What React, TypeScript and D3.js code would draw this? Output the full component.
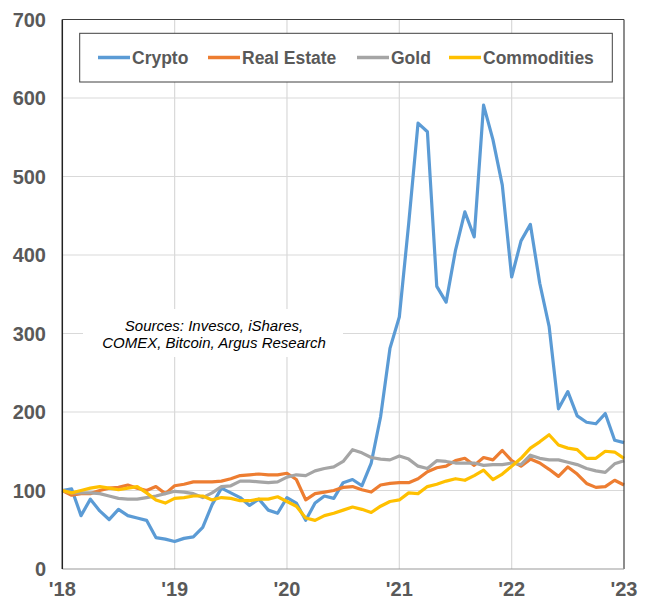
import React from 'react';
import * as d3 from 'd3';

const width = 652;
const height = 599;
const margin = { top: 19.5, right: 28, bottom: 30, left: 62.3 };

const yearLabels = ["'18", "'19", "'20", "'21", "'22", "'23"];
const yTicks = [0, 100, 200, 300, 400, 500, 600, 700];

// monthly index values, Jan '18 = 100
const crypto = [
    100, 102, 68, 89, 74, 63, 76, 68, 65, 62, 40, 38, 35,
    39, 41, 53, 82, 103, 97, 91, 81, 89, 75, 71, 91,
    84, 62, 84, 93, 90, 110, 114, 106, 135, 194, 281, 321,
    440, 568, 557, 360, 340, 406, 455, 423, 591, 547, 489, 372,
    418, 439, 364, 309, 204, 226, 195, 187, 185, 198, 164, 161
];
const realEstate = [
    100, 94, 96, 96, 100, 103, 104, 107, 103, 100, 105, 96, 106,
    108, 111, 111, 111, 112, 115, 119, 120, 121, 120, 120, 122,
    114, 88, 96, 98, 100, 104, 105, 101, 98, 107, 109, 110,
    110, 115, 124, 129, 131, 138, 141, 132, 142, 139, 151, 138,
    131, 140, 135, 127, 118, 130, 121, 109, 104, 105, 113, 107
];
const gold = [
    100, 97, 97, 97, 96, 93, 90, 89, 89, 91, 93, 96, 99,
    98, 96, 91, 97, 105, 106, 112, 112, 111, 110, 111, 117,
    120, 119, 125, 128, 130, 137, 152, 148, 142, 140, 139, 144,
    140, 131, 128, 138, 137, 135, 135, 135, 132, 133, 133, 135,
    133, 145, 141, 139, 139, 136, 133, 128, 125, 123, 134, 138
];
const commodities = [
    100, 97, 100, 103, 105, 103, 101, 103, 105, 97, 88, 84, 90,
    91, 93, 93, 88, 91, 90, 87, 87, 89, 89, 92, 86,
    80, 65, 62, 68, 71, 75, 79, 76, 72, 80, 86, 88,
    97, 96, 105, 108, 112, 115, 113, 119, 126, 114, 121, 131,
    141, 154, 162, 171, 158, 154, 152, 141, 141, 150, 149, 141
];

const seriesNames = ['Crypto', 'Real Estate', 'Gold', 'Commodities'];
const seriesValues = [crypto, realEstate, gold, commodities];
const colors = ['#5b9bd5', '#ed7d31', '#a5a5a5', '#ffc000'];
const sourceLines = ['Sources: Invesco, iShares,', 'COMEX, Bitcoin, Argus Research'];

const font = '"Liberation Sans", Arial, Helvetica, sans-serif';

const App = () => {
    const x = d3.scaleLinear().domain([0, 60]).range([margin.left, width - margin.right]);
    const y = d3.scaleLinear().domain([0, 700]).range([height - margin.bottom, margin.top]);
    const line = d3.line<number>()
        .x((d, i) => x(i))
        .y(d => y(d));

    const x0 = x(0), x1 = x(60), yTop = y(700), yBot = y(0);
    const legendX = [98, 208, 357, 449];

    return (
        <svg width={width} height={height} style={{ position: 'absolute', left: 0, top: 0, background: '#fff' }}>
            {/* grid */}
            {yTicks.slice(1, -1).map(t => (
                <line key={'h' + t} x1={x0} x2={x1} y1={y(t)} y2={y(t)} stroke="#d9d9d9" strokeWidth={1.2} />
            ))}
            {yearLabels.slice(1, -1).map((l, i) => (
                <line key={'v' + l} x1={x((i + 1) * 12)} x2={x((i + 1) * 12)} y1={yTop} y2={yBot} stroke="#d9d9d9" strokeWidth={1.2} />
            ))}

            {/* source note */}
            <rect x={83} y={309} width={260} height={48} fill="#fff" />
            {sourceLines.map((s, i) => (
                <text key={s} x={214} y={330.5 + i * 17} textAnchor="middle" fontFamily={font}
                    fontStyle="italic" fontSize={15} fill="#000">{s}</text>
            ))}

            {/* series */}
            {seriesValues.map((vals, i) => (
                <path key={seriesNames[i]} d={line(vals) || ''} fill="none" stroke={colors[i]}
                    strokeWidth={3.2} strokeLinejoin="round" />
            ))}

            {/* frame */}
            <line x1={x0} x2={x1} y1={yTop} y2={yTop} stroke="#404040" strokeWidth={1.2} />
            <line x1={x1} x2={x1} y1={yTop} y2={yBot} stroke="#404040" strokeWidth={1.2} />
            <line x1={x0} x2={x1} y1={yBot} y2={yBot} stroke="#999" strokeWidth={1.2} />
            <line x1={x0} x2={x0} y1={yTop} y2={yBot} stroke="#222" strokeWidth={1.5} />

            {/* y ticks */}
            {yTicks.map(t => (
                <text key={'yt' + t} x={46} y={y(t) + 7} textAnchor="end" fontFamily={font}
                    fontWeight="bold" fontSize={20} fill="#595959">{t}</text>
            ))}
            {/* x ticks */}
            {yearLabels.map((l, i) => (
                <text key={'xt' + l} x={x(i * 12)} y={596} textAnchor="middle" fontFamily={font}
                    fontWeight="bold" fontSize={20} fill="#595959">{l}</text>
            ))}

            {/* legend */}
            <rect x={79.7} y={33.3} width={532.6} height={48.7} fill="#fff" stroke="#404040" strokeWidth={1} />
            {seriesNames.map((n, i) => (
                <g key={'lg' + n}>
                    <line x1={legendX[i]} x2={legendX[i] + 32} y1={57.5} y2={57.5} stroke={colors[i]} strokeWidth={3.5} />
                    <text x={legendX[i] + 34} y={63.5} fontFamily={font} fontWeight="bold" fontSize={17.5} fill="#595959">{n}</text>
                </g>
            ))}
        </svg>
    );
};

export default App;
